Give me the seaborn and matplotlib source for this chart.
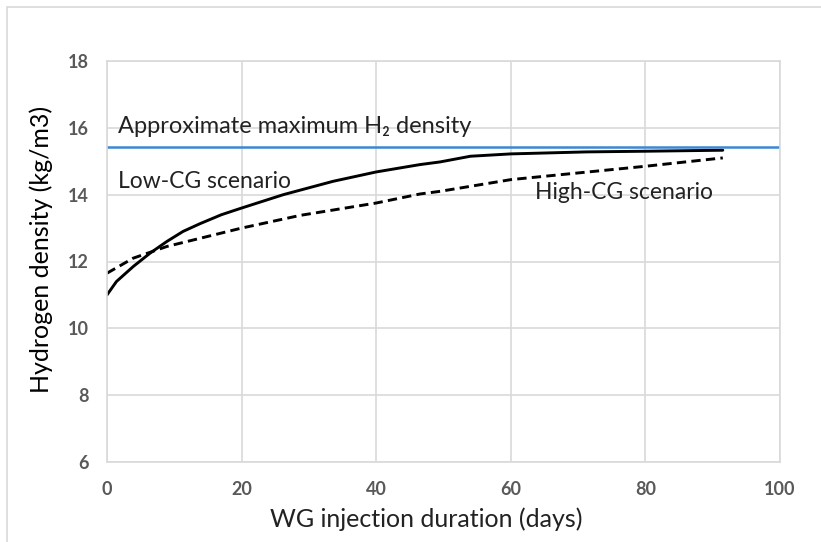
import numpy as np
import pandas as pd
import matplotlib
matplotlib.use("Agg")
import matplotlib.pyplot as plt
from matplotlib.patches import Rectangle
import seaborn as sns

# values
low_days = [0, 1.4, 3.9, 6.4, 8.9, 11.3, 13.8, 17, 20, 26.2, 33.6, 40, 46.5, 49.5, 54, 60, 71.3, 80, 91.5]
low_cg = [11.0, 11.4, 11.85, 12.25, 12.6, 12.9, 13.13, 13.4, 13.6, 14.0, 14.4, 14.68, 14.9, 14.98, 15.15, 15.22, 15.28, 15.3, 15.33]
high_days = [0, 3.9, 8.9, 20, 28.7, 40, 46.5, 49.5, 60, 80, 91.5]
high_cg = [11.65, 12.1, 12.45, 13.0, 13.38, 13.75, 14.02, 14.1, 14.45, 14.85, 15.1]
max_density = 15.42

x_ticks = [0, 20, 40, 60, 80, 100]
y_ticks = [6, 8, 10, 12, 14, 16, 18]

sns.set_style("white")
plt.rcParams['font.family'] = ['Lato', 'DejaVu Sans']

low = pd.DataFrame({'days': low_days, 'density': low_cg})
high = pd.DataFrame({'days': high_days, 'density': high_cg})

fig = plt.figure(figsize=(8.21, 5.42), dpi=100)
ax = fig.add_axes([107/821, 1 - 462/542, (780 - 107)/821, (462 - 61)/542])

sns.lineplot(data=low, x='days', y='density', color='black', linewidth=2.1, ax=ax)
sns.lineplot(data=high, x='days', y='density', color='black', linewidth=2.1,
             linestyle=(0, (3.2, 1.8)), ax=ax)
ax.axhline(max_density, color='#3a88d0', linewidth=1.8)

ax.set_xlim(0, 100)
ax.set_ylim(6, 18)
ax.set_xticks(x_ticks)
ax.set_yticks(y_ticks)
ax.grid(True, color='#d9d9d9', linewidth=1.2)
ax.set_axisbelow(True)
for sp in ax.spines.values():
    sp.set_color('#d9d9d9')
    sp.set_linewidth(1.2)
ax.tick_params(axis='y', length=0, pad=13, labelsize=13, labelcolor='#595959')
ax.tick_params(axis='x', length=0, pad=14, labelsize=13, labelcolor='#595959')
for lab in ax.get_xticklabels() + ax.get_yticklabels():
    lab.set_fontweight('bold')

ax.set_xlabel("WG injection duration (days)", fontsize=18, color='#222222')
ax.set_ylabel("Hydrogen density (kg/m3)", fontsize=18, color='black')
ax.xaxis.set_label_coords(0.475, -0.113)
ax.yaxis.set_label_coords(-0.08, 0.529)

ax.text(1.6, 16.05, "Approximate maximum H₂ density", fontsize=17, color='#222222', va='center')
ax.text(1.6, 14.38, "Low-CG scenario", fontsize=16.5, color='#222222', va='center')
ax.text(63.6, 14.05, "High-CG scenario", fontsize=16.5, color='#222222', va='center')

fig.patches.append(Rectangle((7/821, -0.1), 1.2, 1 - 6.5/542 + 0.1, transform=fig.transFigure,
                             fill=False, edgecolor='#d9d9d9', linewidth=1.2))

fig.savefig("out.png", dpi=100)
